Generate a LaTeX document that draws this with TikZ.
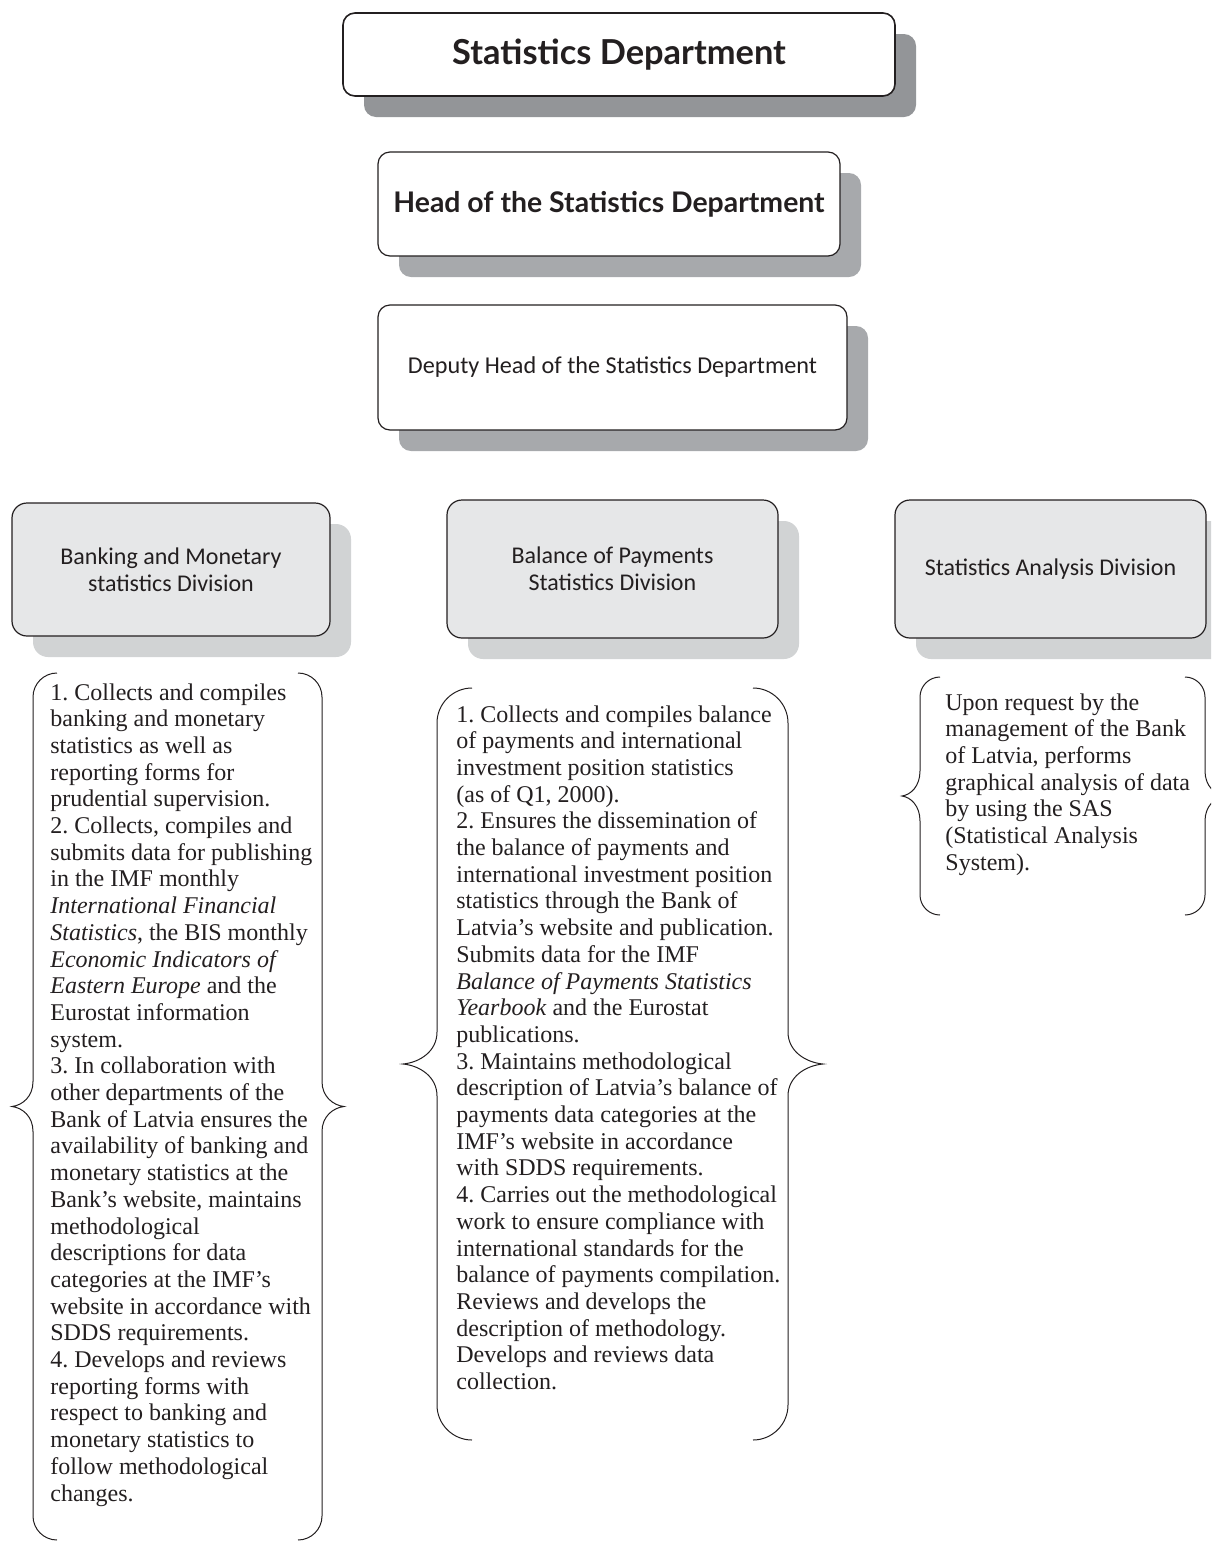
\documentclass[tikz,border=0pt]{standalone}
\usepackage{fontspec}
\setmainfont{Liberation Serif}
\newfontfamily\headfont{Lato}
\newfontfamily\labelfont{Carlito}
\usetikzlibrary{shadows}
\frenchspacing

\definecolor{inkgray}{HTML}{231F20}
\definecolor{shadowdark}{HTML}{939598}
\definecolor{shadowmid}{HTML}{A7A9AC}
\definecolor{shadowlight}{HTML}{D1D3D4}
\definecolor{divfill}{HTML}{E6E7E8}

\begin{document}
\begin{tikzpicture}[x=0.5pt, y={(0pt,-0.5pt)},
    unitbox/.style={draw=inkgray, line width=0.6pt, rounded corners=6pt, fill=white,
      align=center, inner sep=0pt, text=inkgray},
    topshadow/.style={copy shadow={shadow xshift=10.5pt, shadow yshift=-10.5pt, fill=#1, draw=none}},
    divbox/.style={unitbox, fill=divfill, rounded corners=7.5pt,
      font=\labelfont\fontsize{12}{13.5}\selectfont, topshadow=shadowlight},
    dutytext/.style={anchor=north west, align=left, inner sep=0pt, text=inkgray,
      font=\fontsize{12}{13.35}\selectfont},
    bracket/.style={draw=inkgray, line width=0.5pt}]
                % Page frame
                \useasboundingbox (0,0) rectangle (1211,1543);
                \clip (0,0) rectangle (1211,1543);
                % Management boxes
                \node[unitbox, line width=0.8pt, minimum width=276pt, minimum height=41.5pt,
                  font=\headfont\bfseries\fontsize{17.2}{20}\selectfont, topshadow=shadowdark]
                  (dept) at (619,54.5) {Statistics Department};
                \node[unitbox, minimum width=231pt, minimum height=52pt,
                  font=\headfont\bfseries\fontsize{14.2}{17}\selectfont, topshadow=shadowmid]
                  (head) at (609,204) {Head of the Statistics Department};
                \node[unitbox, minimum width=234.5pt, minimum height=62.5pt,
                  font=\labelfont\fontsize{12.1}{15}\selectfont, topshadow=shadowmid]
                  (deputy) at (612.5,367.5) {Deputy Head of the Statistics Department};
                % Division boxes
                \node[divbox, minimum width=159pt, minimum height=66.5pt]
                  (bank) at (171,569.5) {Banking and Monetary\\statistics Division};
                \node[divbox, minimum width=165.5pt, minimum height=69pt]
                  (bop) at (612.5,569) {Balance of Payments\\Statistics Division};
                \node[divbox, minimum width=155.5pt, minimum height=69pt]
                  (sad) at (1050.5,569) {Statistics Analysis Division};
                % Duties of each division
                \node[dutytext] (banktext) at (50,683) {1. Collects and compiles\\
                  banking and monetary\\statistics as well as\\reporting forms for\\
                  prudential supervision.\\2. Collects, compiles and\\
                  submits data for publishing\\in the IMF monthly\\
                  \textit{International Financial}\\\textit{Statistics}, the BIS monthly\\
                  \textit{Economic Indicators of}\\\textit{Eastern Europe} and the\\
                  Eurostat information\\system.\\3. In collaboration with\\
                  other departments of the\\Bank of Latvia ensures the\\
                  availability of banking and\\monetary statistics at the\\
                  Bank’s website, maintains\\methodological\\descriptions for data\\
                  categories at the IMF’s\\website in accordance with\\
                  SDDS requirements.\\4. Develops and reviews\\reporting forms with\\
                  respect to banking and\\monetary statistics to\\
                  follow methodological\\changes.};
                \node[dutytext] (boptext) at (456,705) {1. Collects and compiles balance\\
                  of payments and international\\investment position statistics\\
                  (as of Q1, 2000).\\2. Ensures the dissemination of\\
                  the balance of payments and\\international investment position\\
                  statistics through the Bank of\\Latvia’s website and publication.\\
                  Submits data for the IMF\\\textit{Balance of Payments Statistics}\\
                  \textit{Yearbook} and the Eurostat\\publications.\\
                  3. Maintains methodological\\description of Latvia’s balance of\\
                  payments data categories at the\\IMF’s website in accordance\\
                  with SDDS requirements.\\4. Carries out the methodological\\
                  work to ensure compliance with\\international standards for the\\
                  balance of payments compilation.\\Reviews and develops the\\
                  description of methodology.\\Develops and reviews data\\
                  collection.};
                \node[dutytext] (sadtext) at (945,693) {Upon request by the\\
                  management of the Bank\\of Latvia, performs\\
                  graphical analysis of data\\by using the SAS\\
                  (Statistical Analysis\\System).};
                % Curly brackets round the duties
                \foreach \xl/\yt/\xr/\yb/\r/\tl/\tr/\h in
                  {33/673/322/1540/24/21/22/25, 437/688/788/1440/35/34/35/32,
                   920/677/1205/915/20/18/20/25}{
                  \pgfmathsetmacro\ym{(\yt+\yb)/2}
                  \draw[bracket] (\xl+\r,\yt) .. controls (\xl+0.45*\r,\yt) and (\xl,\yt+0.45*\r) .. (\xl,\yt+\r)
                    -- (\xl,\ym-\h) .. controls (\xl,\ym-0.4*\h) and (\xl-0.5*\tl,\ym-0.05*\h) .. (\xl-\tl,\ym)
                    .. controls (\xl-0.5*\tl,\ym+0.05*\h) and (\xl,\ym+0.4*\h) .. (\xl,\ym+\h)
                    -- (\xl,\yb-\r) .. controls (\xl,\yb-0.45*\r) and (\xl+0.45*\r,\yb) .. (\xl+\r,\yb);
                  \draw[bracket] (\xr-\r,\yt) .. controls (\xr-0.45*\r,\yt) and (\xr,\yt+0.45*\r) .. (\xr,\yt+\r)
                    -- (\xr,\ym-\h) .. controls (\xr,\ym-0.4*\h) and (\xr+0.5*\tr,\ym-0.05*\h) .. (\xr+\tr,\ym)
                    .. controls (\xr+0.5*\tr,\ym+0.05*\h) and (\xr,\ym+0.4*\h) .. (\xr,\ym+\h)
                    -- (\xr,\yb-\r) .. controls (\xr,\yb-0.45*\r) and (\xr-0.45*\r,\yb) .. (\xr-\r,\yb);
                }
\end{tikzpicture}
\end{document}
